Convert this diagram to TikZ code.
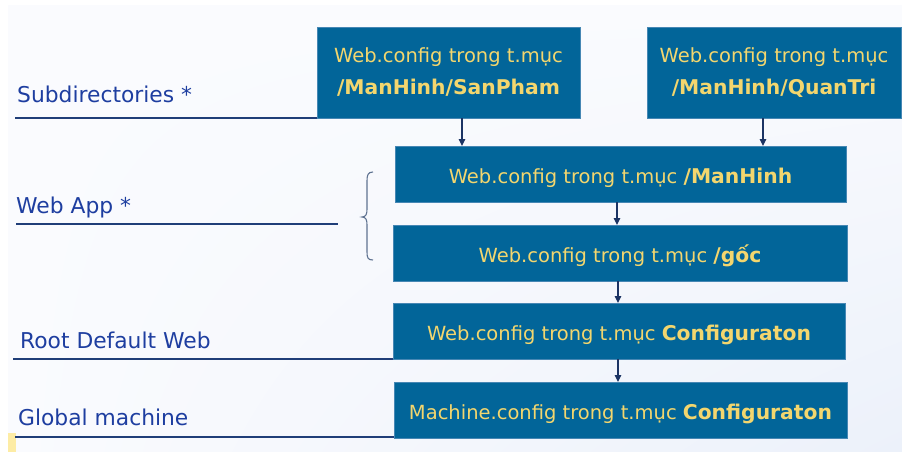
\documentclass[tikz,border=0pt]{standalone}
\usepackage{fontspec}
\setmainfont{DejaVu Sans}
\usetikzlibrary{arrows.meta,shadings}

\definecolor{boxfill}{RGB}{2,101,153}
\definecolor{boxedge}{RGB}{70,135,180}
\definecolor{boxtext}{RGB}{243,214,110}
\definecolor{labeltext}{RGB}{30,62,160}
\definecolor{rulecol}{RGB}{32,62,120}
\definecolor{arrowcol}{RGB}{28,52,100}
\definecolor{bracecol}{RGB}{95,115,145}
\definecolor{bgtop}{RGB}{250,251,254}
\definecolor{bgbot}{RGB}{236,241,250}
\definecolor{markyellow}{RGB}{253,236,165}

\newcommand{\keypart}[1]{{\fontsize{20.3}{32}\selectfont\bfseries #1}}

\tikzset{
  cfgbox/.style={rectangle, fill=boxfill, draw=boxedge, line width=0.6pt,
    inner sep=0pt, outer sep=0pt, text=boxtext, align=center,
    font=\fontsize{19.5}{32}\selectfont},
  oneline/.style={text height=18pt, text depth=0pt},
  levellabel/.style={anchor=base west, inner sep=0pt, text=labeltext,
    font=\fontsize{21.8}{24}\selectfont},
  levelrule/.style={draw=rulecol, line width=1.1pt},
  flow/.style={draw=arrowcol, line width=1.2pt,
    -{Triangle[length=7pt,width=6.5pt]}},
  bracket/.style={draw=bracecol, line width=1.1pt}
}

\begin{document}
\begin{tikzpicture}[x=1pt,y=-1pt]
  \useasboundingbox (0,0) rectangle (902,452);
  \fill[white] (0,0) rectangle (902,452);
  \shade[upper left=bgtop, lower right=bgbot, upper right=bgtop, lower left=bgtop]
    (8,6) rectangle (902,452);
  \fill[markyellow] (8,433) rectangle (16,452);

  % configuration files, most specific at the top
  \node[cfgbox, minimum width=263pt, minimum height=91pt] (sanpham) at (448.5,72.5)
    {Web.config trong t.mục\\\keypart{/ManHinh/SanPham}};
  \node[cfgbox, minimum width=254pt, minimum height=91pt] (quantri) at (774,72.5)
    {Web.config trong t.mục\\\keypart{/ManHinh/QuanTri}};
  \node[cfgbox, oneline, minimum width=451pt, minimum height=56pt] (manhinh) at (620.5,174)
    {Web.config trong t.mục \keypart{/ManHinh}};
  \node[cfgbox, oneline, minimum width=454pt, minimum height=56pt] (goc) at (620,253)
    {Web.config trong t.mục \keypart{/gốc}};
  \node[cfgbox, oneline, minimum width=452pt, minimum height=56pt] (rootweb) at (619,331)
    {Web.config trong t.mục \keypart{Configuraton}};
  \node[cfgbox, oneline, minimum width=453pt, minimum height=56pt] (machine) at (620.5,410)
    {Machine.config trong t.mục \keypart{Configuraton}};

  % inheritance arrows
  \draw[flow] ([xshift=13.5pt]sanpham.south) -- ([xshift=13.5pt]sanpham.south |- manhinh.north);
  \draw[flow] ([xshift=-11pt]quantri.south) -- ([xshift=-11pt]quantri.south |- manhinh.north);
  \draw[flow] ([xshift=-3.5pt]manhinh.south) -- ([xshift=-3.5pt]manhinh.south |- goc.north);
  \draw[flow] ([xshift=-2pt]goc.south) -- ([xshift=-2pt]goc.south |- rootweb.north);
  \draw[flow] ([xshift=-1pt]rootweb.south) -- ([xshift=-1pt]rootweb.south |- machine.north);

  % level names with their underlines
  \node[levellabel] (lsub) at (17,102) {Subdirectories *};
  \node[levellabel] (lapp) at (16,213) {Web App *};
  \node[levellabel] (lroot) at (20,348) {Root Default Web};
  \node[levellabel] (lglobal) at (18,425) {Global machine};

  \coordinate (rsub) at (15,118);
  \coordinate (rappA) at (16,224);
  \coordinate (rappB) at (338,224);
  \coordinate (rroot) at (13,359);
  \coordinate (rglobal) at (15,437);
  \draw[levelrule] (rsub) -- (sanpham.south west);
  \draw[levelrule] (rappA) -- (rappB);
  \draw[levelrule] (rroot) -- (rroot -| rootweb.south west);
  \draw[levelrule] (rglobal) -- (rglobal -| machine.west);

  % brace grouping the two web-app levels
  \draw[bracket] (373,172) .. controls (368,172) and (367,175) .. (367,181)
    -- (367,209) .. controls (367,214) and (366,217) .. (362,217)
    .. controls (366,217) and (367,220) .. (367,225)
    -- (367,252) .. controls (367,258) and (368,260) .. (373,260);
\end{tikzpicture}
\end{document}
